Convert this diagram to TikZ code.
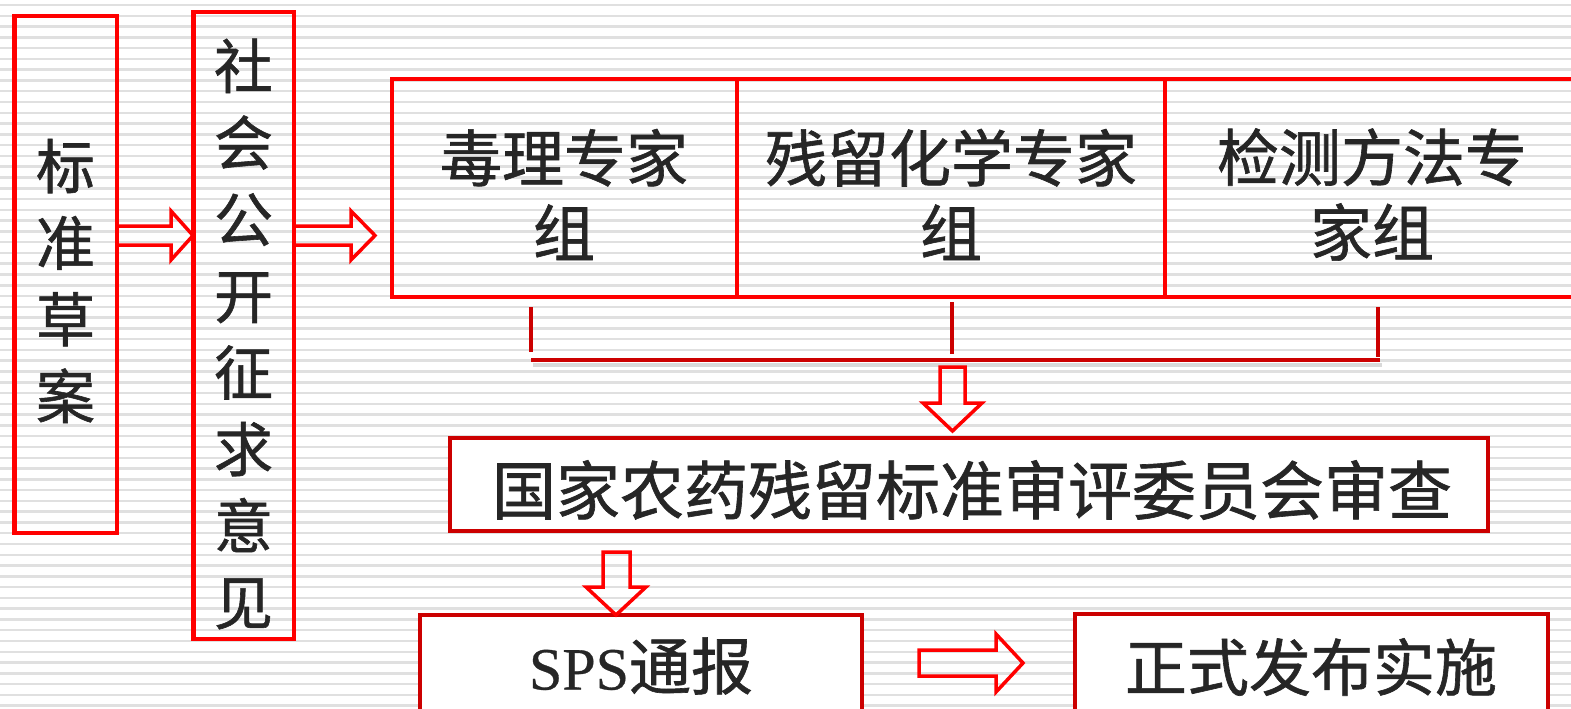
\documentclass[tikz,border=0pt]{standalone}
\usepackage{fontspec}
\newfontfamily\cjk[FakeBold=1]{Noto Sans CJK SC}
\newfontfamily\lat[FakeBold=0.5]{Liberation Serif}
\definecolor{bred}{RGB}{255,0,0}
\definecolor{dred}{RGB}{204,0,0}
\definecolor{txt}{RGB}{38,38,38}
\definecolor{stripe}{RGB}{224,224,224}
\tikzset{
  redbox/.style={draw=bred, line width=4.5pt, inner sep=0pt},
  grpbox/.style={draw=bred, line width=4pt, inner sep=0pt},
  darkbox/.style={draw=dred, line width=4pt, fill=white, inner sep=0pt},
  blockarrow/.style={draw=bred, line width=3.5pt, line join=miter},
  bracketline/.style={draw=dred, line width=4pt},
  bracketshadow/.style={draw=black, opacity=0.15, line width=4pt},
  vtext/.style={text=txt, font=\cjk\fontsize{59}{76.6}\selectfont, align=center, inner sep=0pt},
  htext/.style={text=txt, font=\cjk\fontsize{62}{75}\selectfont, align=center, inner sep=0pt},
}
\begin{document}
\begin{tikzpicture}[x=1pt,y=-1pt]
\useasboundingbox (0,0) rectangle (1571,709);
\fill[white] (0,0) rectangle (1571,709);
\foreach \i in {0,...,66}{
  \draw[stripe, line width=2.5pt] (0,{5+10.78*\i}) -- (1571,{5+10.78*\i});
}
% left vertical boxes
\node[redbox, minimum width=102.5pt, minimum height=516.5pt] (b1) at (65.5,274.5) {};
\node[vtext] (b1t) at (65.5,281) {标\\准\\草\\案};
\node[redbox, minimum width=100.5pt, minimum height=627pt] (b2) at (243.5,325.5) {};
\node[vtext] (b2t) at (243.5,334) {社\\会\\公\\开\\征\\求\\意\\见};
% expert groups
\node[grpbox, minimum width=345pt, minimum height=218pt] (g1) at (564.5,188) {};
\node[grpbox, minimum width=428pt, minimum height=218pt] (g2) at (951,188) {};
\node[grpbox, minimum width=417pt, minimum height=218pt] (g3) at (1373.5,188) {};
\node[htext] (g1t) at (564,194.5) {毒理专家\\组};
\node[htext] (g2t) at (951,194.5) {残留化学专家\\组};
\node[htext] (g3t) at (1372,194.5) {检测方法专\\家组};
% arrows between left boxes
\draw[blockarrow] (b1.east |- 0,226) -- (171,226) -- (171,211) -- (193,235.5) -- (171,260) -- (171,245) -- (b1.east |- 0,245);
\draw[blockarrow] (b2.east |- 0,226) -- (351,226) -- (351,211) -- (375,235.5) -- (351,260) -- (351,245) -- (b2.east |- 0,245);
% bracket
\coordinate (t1) at (531,307);
\coordinate (t2) at (952,302);
\coordinate (t3) at (1378,307);
\coordinate (h1) at (531,360);
\coordinate (h2) at (952,360);
\coordinate (h3) at (1380,360);
\draw[bracketshadow] ([shift={(2,5)}]h1) -- ([shift={(2,5)}]h3);
\draw[bracketline] (t1) -- (531,352);
\draw[bracketline] (t2) -- (952,354);
\draw[bracketline] (t3) -- (1378,357);
\draw[bracketline] (h1) -- (h3);
% review box
\node[darkbox, minimum width=1038pt, minimum height=93pt] (rev) at (969,484.5) {};
\node[htext, font=\cjk\fontsize{64}{75}\selectfont] (revt) at (972,490) {国家农药残留标准审评委员会审查};
% down arrow 1
\draw[blockarrow] (940,367) -- (965,367) -- (965,403) -- (982,403) -- (952.5,431) -- (923,403) -- (940,403) -- cycle;
% bottom boxes
\node[darkbox, minimum width=442pt, minimum height=146pt] (sps) at (641,688) {};
\node[htext] (spst) at (641,666) {{\lat\fontsize{60}{75}\selectfont SPS}通报};
\node[darkbox, minimum width=473pt, minimum height=146pt] (pub) at (1311.5,687) {};
\node[htext] (pubt) at (1311,667) {正式发布实施};
% down arrow 2
\draw[blockarrow] (603,552) -- (630,552) -- (630,587) -- (646,587) -- (616,615) -- (586,587) -- (603,587) -- cycle;
% right arrow 3
\draw[blockarrow] (919,650) -- (996,650) -- (996,634) -- (1023,663) -- (996,692) -- (996,676) -- (919,676) -- cycle;
\end{tikzpicture}
\end{document}
